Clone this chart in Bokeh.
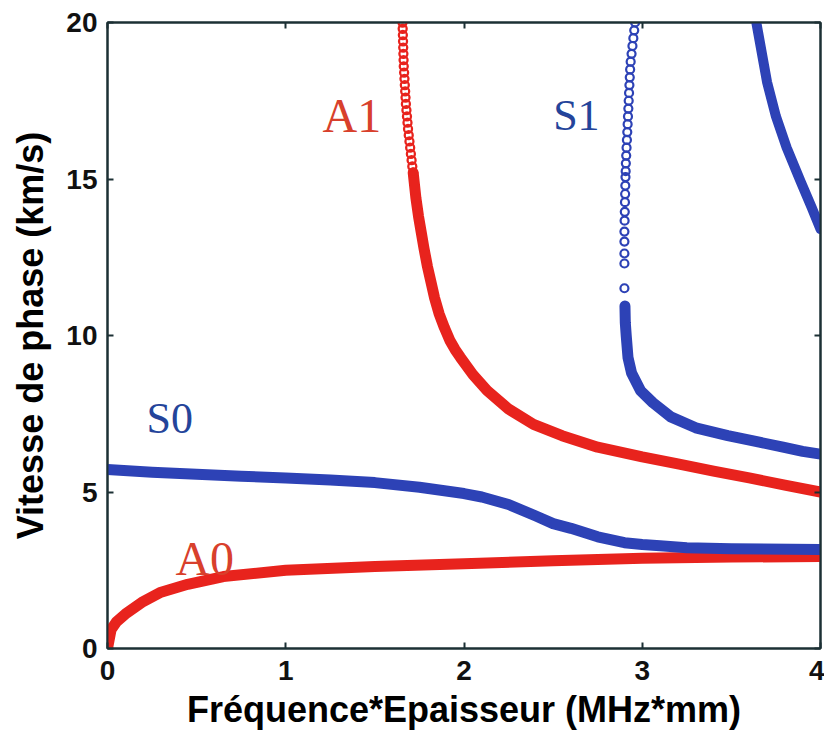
from bokeh.plotting import figure
from bokeh.models import LinearAxis, Range1d, FixedTicker, CustomLabelingPolicy
from bokeh.core.properties import value
from bokeh.embed import file_html
from bokeh.resources import INLINE

# ---- data ----
# A0 (antisymmetric fundamental mode)
a0_x = [0.0, 0.02, 0.05, 0.1, 0.2, 0.3, 0.45, 0.65, 1.0, 1.5, 2.0, 2.5, 3.0, 3.5, 4.0]
a0_y = [0.0, 0.6, 0.85, 1.1, 1.5, 1.8, 2.05, 2.3, 2.5, 2.62, 2.71, 2.8, 2.88, 2.92, 2.94]

# S0 (symmetric fundamental mode)
s0_x = [0.0, 0.25, 0.5, 0.75, 1.0, 1.25, 1.5, 1.75, 2.0, 2.1, 2.25, 2.4, 2.5, 2.6, 2.75,
        2.9, 3.0, 3.1, 3.25, 3.5, 4.0]
s0_y = [5.72, 5.63, 5.57, 5.5, 5.45, 5.38, 5.3, 5.15, 4.95, 4.84, 4.6, 4.24, 3.99, 3.84, 3.57,
        3.38, 3.32, 3.28, 3.22, 3.19, 3.16]

# A1 : sparse circles at the top, dense band below
a1_top_x = [1.655, 1.656, 1.657, 1.658, 1.659, 1.660, 1.661, 1.662, 1.664, 1.666, 1.668,
            1.670, 1.672, 1.674, 1.677, 1.680, 1.683, 1.686, 1.690, 1.694, 1.698,
            1.702, 1.706, 1.710, 1.715]
a1_top_y = [20.0, 19.8, 19.6, 19.4, 19.2, 19.0, 18.8, 18.6, 18.4, 18.2, 18.0,
            17.8, 17.6, 17.4, 17.2, 17.0, 16.8, 16.6, 16.4, 16.2, 16.0,
            15.8, 15.6, 15.4, 15.2]
a1_x = [1.715, 1.73, 1.745, 1.76, 1.775, 1.795, 1.815, 1.835, 1.86, 1.89, 1.92, 1.95, 1.98,
        2.05, 2.13, 2.25, 2.39, 2.55, 2.75, 3.0, 3.2, 3.4, 3.6, 3.8, 4.0]
a1_y = [15.2, 14.4, 13.8, 13.3, 12.8, 12.2, 11.7, 11.2, 10.7, 10.25, 9.85, 9.55, 9.3,
        8.75, 8.24, 7.65, 7.16, 6.8, 6.43, 6.12, 5.9, 5.67, 5.45, 5.22, 5.0]

# S1 : sparse circles at the top, dense band below
s1_top_x = [2.96, 2.955, 2.95, 2.945, 2.94, 2.935, 2.932, 2.93, 2.928, 2.926, 2.924,
            2.922, 2.92, 2.918, 2.916, 2.914, 2.912, 2.91, 2.908, 2.907, 2.906,
            2.905, 2.904, 2.903, 2.902, 2.901, 2.90, 2.90, 2.90, 2.90, 2.90]
s1_top_y = [20.0, 19.75, 19.5, 19.25, 19.0, 18.75, 18.5, 18.25, 18.0, 17.75, 17.5,
            17.25, 17.0, 16.75, 16.5, 16.25, 16.0, 15.75, 15.5, 15.25, 15.06,
            14.79, 14.52, 14.26, 13.95, 13.67, 13.32, 13.0, 12.62, 12.3, 11.51]
s1_x = [2.903, 2.905, 2.91, 2.92, 2.94, 2.99, 3.06, 3.16, 3.3, 3.48, 3.65, 3.79, 3.9, 4.0]
s1_y = [10.94, 10.4, 10.0, 9.3, 8.8, 8.24, 7.85, 7.4, 7.05, 6.8, 6.6, 6.43, 6.3, 6.21]

# third (unlabelled) blue mode in the top right corner
s2_x = [3.64, 3.70, 3.75, 3.81, 3.89, 3.95, 4.0]
s2_y = [20.0, 18.1, 17.0, 16.0, 14.9, 14.1, 13.4]

x_ticks = [0, 1, 2, 3, 4]
y_ticks = [0, 5, 10, 15, 20]

a_labels = ["A1", "A0"]
a_label_x = [1.206, 0.381]
a_label_y = [17.03, 2.87]
s_labels = ["S1", "S0"]
s_label_x = [2.50, 0.219]
s_label_y = [17.03, 7.35]

RED = "#e8231d"
BLUE = "#2d42b6"
RED_LBL = "#d8402c"
BLUE_LBL = "#24449a"
AX = "#1c3034"

p = figure(width=824, height=736, output_backend="svg", toolbar_location=None,
           x_range=Range1d(0, 4), y_range=Range1d(0, 20),
           min_border_left=107, min_border_right=4, min_border_top=22, min_border_bottom=88,
           background_fill_color="white", border_fill_color="white")
p.grid.visible = False
p.outline_line_color = AX
p.outline_line_width = 2

# curves
BAND = 11
p.line(a0_x, a0_y, line_width=BAND, line_color=RED, line_cap="round", line_join="round")
p.line(s0_x, s0_y, line_width=BAND, line_color=BLUE, line_cap="round", line_join="round")
p.line(a1_x, a1_y, line_width=BAND, line_color=RED, line_cap="round", line_join="round")
p.scatter(a1_top_x, a1_top_y, marker="circle", size=8, fill_color=None,
          line_color=RED, line_width=2.3)
p.line(s1_x, s1_y, line_width=BAND, line_color=BLUE, line_cap="round", line_join="round")
p.scatter(s1_top_x, s1_top_y, marker="circle", size=8, fill_color=None,
          line_color=BLUE, line_width=2.2)
p.line(s2_x, s2_y, line_width=10, line_color=BLUE, line_cap="round", line_join="round")

# mode labels
p.text(x=a_label_x, y=a_label_y, text=a_labels, text_font=value("Liberation Serif"),
       text_font_size="48px", text_color=RED_LBL, text_baseline="alphabetic",
       text_align="left")
p.text(x=s_label_x, y=s_label_y, text=s_labels, text_font=value("Liberation Serif"),
       text_font_size="44px", text_color=BLUE_LBL, text_baseline="alphabetic",
       text_align="left")

# axes
for ax in (p.xaxis[0], p.yaxis[0]):
    ax.axis_line_color = AX
    ax.axis_line_width = 2
    ax.major_tick_in = 6
    ax.major_tick_out = 0
    ax.major_tick_line_color = AX
    ax.major_tick_line_width = 2
    ax.minor_tick_line_color = None
    ax.major_label_text_font = "Liberation Sans"
    ax.major_label_text_font_size = "28px"
    ax.major_label_text_font_style = "bold"
    ax.major_label_text_color = "#111111"
    ax.axis_label_text_font = "Liberation Sans"
    ax.axis_label_text_font_size = "36px"
    ax.axis_label_text_font_style = "bold"
    ax.axis_label_text_color = "black"

p.xaxis[0].ticker = FixedTicker(ticks=x_ticks)
p.yaxis[0].ticker = FixedTicker(ticks=y_ticks)
p.xaxis[0].axis_label = "Fréquence*Epaisseur (MHz*mm)"
p.yaxis[0].axis_label = "Vitesse de phase (km/s)"
p.xaxis[0].major_label_standoff = 12
p.xaxis[0].axis_label_standoff = 6
p.yaxis[0].major_label_standoff = 10
p.yaxis[0].axis_label_standoff = 12

no_labels = CustomLabelingPolicy(code="""
const all = [...indices]
for (const i of all) indices.unset(i)
""")
top_axis = LinearAxis(ticker=FixedTicker(ticks=x_ticks))
right_axis = LinearAxis(ticker=FixedTicker(ticks=y_ticks))
for ax in (top_axis, right_axis):
    ax.axis_line_color = AX
    ax.axis_line_width = 2
    ax.major_tick_in = 6
    ax.major_tick_out = 0
    ax.major_tick_line_color = AX
    ax.major_tick_line_width = 2
    ax.minor_tick_line_color = None
    ax.major_label_text_font_size = "1px"
    ax.major_label_standoff = 0
    ax.major_label_policy = no_labels
p.add_layout(top_axis, "above")
p.add_layout(right_axis, "right")

open("out.html", "w").write(file_html(p, INLINE))
